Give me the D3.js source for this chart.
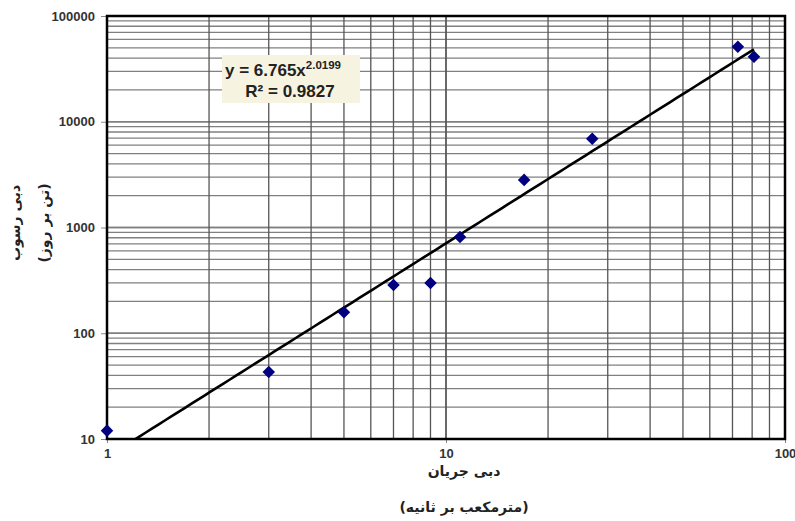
<!DOCTYPE html>
<html><head><meta charset="utf-8">
<script src="https://cdn.jsdelivr.net/npm/d3@7"></script>
<style>body{margin:0;background:#fff}svg{display:block}</style>
</head><body>
<svg id="c" width="795" height="521"></svg>
<script>
const flowX = [1, 3, 5, 7, 9, 11, 17, 27, 72.6, 81];
const sedimentY = [12, 43, 158, 286, 299, 815, 2820, 6890, 51200, 41100];
const xTicks = [1, 10, 100];
const yTicks = [10, 100, 1000, 10000, 100000];
const coefA = 6.765, coefB = 2.0199, r2 = 0.9827;
const yTitle = ["دبی رسوب", "(تن بر روز)"];
const xTitle = ["دبی جریان", "(مترمکعب بر ثانیه)"];

const svg = d3.select("#c");
const L = 107, R = 785, T = 16, B = 439;
const x = d3.scaleLog().domain([1, 100]).range([L, R]);
const y = d3.scaleLog().domain([10, 100000]).range([B, T]);

// minor grid values
const xg = [], yg = [];
for (let d = 1; d < 100; d *= 10) for (let m = 1; m <= 10; m++) xg.push(d * m);
for (let d = 10; d < 100000; d *= 10) for (let m = 1; m <= 10; m++) yg.push(d * m);

svg.append("g").selectAll("line").data(yg).join("line")
  .attr("x1", L).attr("x2", R).attr("y1", d => y(d)).attr("y2", d => y(d))
  .attr("stroke", "#808080").attr("stroke-width", 1.3);
svg.append("g").selectAll("line").data(xg).join("line")
  .attr("y1", T).attr("y2", B).attr("x1", d => x(d)).attr("x2", d => x(d))
  .attr("stroke", "#555").attr("stroke-width", 1.3);

// axes
const yAxis = d3.axisLeft(y).tickValues(yTicks).tickFormat(d3.format("d")).tickSize(6).tickPadding(6);
const gy = svg.append("g").attr("transform", `translate(${L},0)`).call(yAxis);
const xAxis = d3.axisBottom(x).tickValues(xTicks).tickFormat(d3.format("d")).tickSize(4).tickPadding(6);
const gx = svg.append("g").attr("transform", `translate(0,${B})`).call(xAxis);
[gy, gx].forEach(g => {
  g.select(".domain").remove();
  g.selectAll(".tick line").attr("stroke", "#888");
  g.selectAll("text").attr("font-family", "Liberation Sans, Arial, sans-serif")
    .attr("font-size", 13).attr("font-weight", "bold").attr("fill", "#333");
});

// frame
svg.append("rect").attr("x", L).attr("y", T).attr("width", R - L).attr("height", B - T)
  .attr("fill", "none").attr("stroke", "#000").attr("stroke-width", 2.5);

// trendline
const clipId = "pc";
svg.append("clipPath").attr("id", clipId).append("rect")
  .attr("x", L).attr("y", T).attr("width", R - L).attr("height", B - T);
const lx0 = Math.log10(d3.min(flowX)), lx1 = Math.log10(d3.max(flowX));
const xs = d3.range(0, 101).map(i => Math.pow(10, lx0 + i / 100 * (lx1 - lx0)));
svg.append("path").attr("clip-path", `url(#${clipId})`)
  .datum(xs)
  .attr("d", d3.line().x(d => x(d)).y(d => y(coefA * Math.pow(d, coefB))))
  .attr("fill", "none").attr("stroke", "#000").attr("stroke-width", 2.6);

// points
svg.append("g").selectAll("path").data(flowX.map((v, i) => [v, sedimentY[i]])).join("path")
  .attr("d", d3.symbol().type(d3.symbolDiamond2).size(100))
  .attr("transform", d => `translate(${x(d[0])},${y(d[1])})`)
  .attr("fill", "#000080");

// equation box
const ff = "Liberation Sans, Arial, sans-serif";
const eq = svg.append("g");
eq.append("rect").attr("x", 222).attr("y", 55).attr("width", 138).attr("height", 48).attr("fill", "#f6f3e1");
const t1 = eq.append("text").attr("x", 225).attr("y", 76)
  .attr("font-family", ff).attr("font-weight", "bold")
  .attr("font-size", 17).attr("fill", "#222");
t1.append("tspan").text(`y = ${coefA}x`);
t1.append("tspan").attr("dy", -7).attr("font-size", 11.5).text(coefB);
eq.append("text").attr("x", 290).attr("y", 97).attr("text-anchor", "middle")
  .attr("font-family", ff).attr("font-weight", "bold")
  .attr("font-size", 17).attr("fill", "#222").text(`R² = ${r2}`);

// axis titles
const fa = "DejaVu Sans, Noto Sans, sans-serif";
yTitle.forEach((t, i) => {
  svg.append("text").attr("transform", `translate(${20 + i * 29},223) rotate(-90)`)
    .attr("text-anchor", "middle").attr("font-family", fa).attr("font-weight", "bold")
    .attr("font-size", 14).attr("fill", "#222").attr("direction", "rtl").text(t);
});
xTitle.forEach((t, i) => {
  svg.append("text").attr("x", 463 - i * 0, "").attr("x", 464).attr("y", 476 + i * 36)
    .attr("text-anchor", "middle").attr("font-family", fa).attr("font-weight", "bold")
    .attr("font-size", 14).attr("fill", "#222").attr("direction", "rtl").text(t);
});
</script>
</body></html>
